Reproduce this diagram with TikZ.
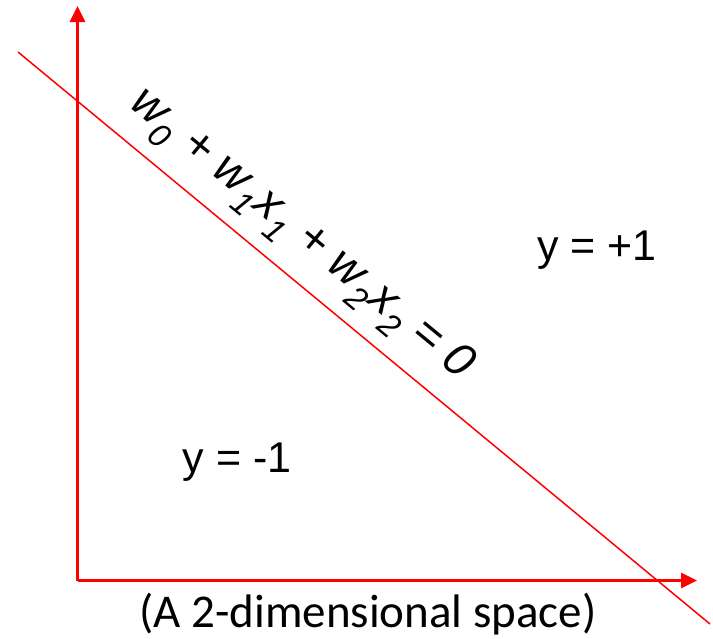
\documentclass[tikz,border=0pt]{standalone}
\usepackage{fontspec}
\setmainfont{Liberation Sans}
\newfontfamily\arialfont{Liberation Sans}
\newfontfamily\capfont{Carlito}
\usetikzlibrary{arrows.meta}
\begin{document}
\begin{tikzpicture}[x=1pt,y=-1pt,
  axis/.style={draw=red,line width=3pt,-{Triangle[length=16pt,width=15pt]}},
  boundary/.style={draw=red,line width=1.5pt},
  region/.style={font=\arialfont\fontsize{43}{50}\selectfont,inner sep=0pt},
  eqlabel/.style={font=\arialfont\itshape\fontsize{47}{52}\selectfont,inner sep=0pt,anchor=south,rotate=-39.56},
  caption/.style={font=\capfont\fontsize{47}{52}\selectfont,inner sep=0pt}]
\useasboundingbox (0,0) rectangle (713,638);
\coordinate (O) at (77.5,580.5);
\coordinate (Ytip) at (77.5,6);
\coordinate (Xtip) at (697,580.5);
\coordinate (L1) at (18,52);
\coordinate (L2) at (710,624);
\coordinate (F) at (285,254.5);
\draw[axis] (O) -- (Ytip);
\draw[axis] (O) -- (Xtip);
\draw[boundary] (L1) -- (L2);
\node[eqlabel] (eq) at (F) {w\textsubscript{0} + w\textsubscript{1}x\textsubscript{1} + w\textsubscript{2}x\textsubscript{2} = 0};
\node[region] (pos) at (597,250) {y = +1};
\node[region] (neg) at (237,462) {y = -1};
\node[caption] (cap) at (368,614) {(A 2-dimensional space)};
\end{tikzpicture}
\end{document}
